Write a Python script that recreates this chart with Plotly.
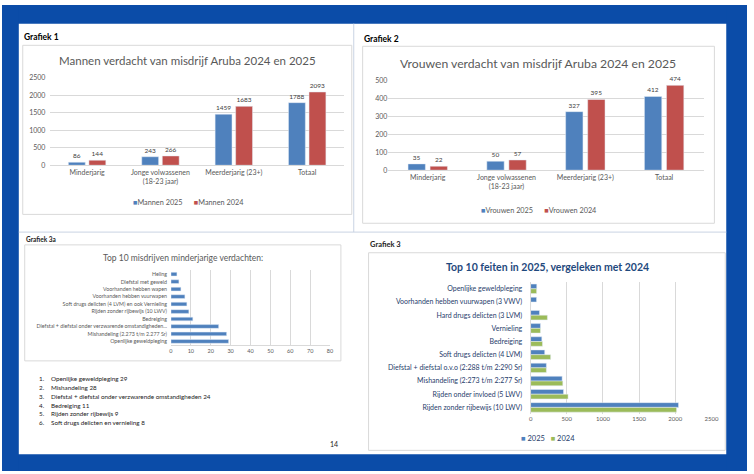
import plotly.graph_objects as go

W, H = 754, 474

# Grafiek 1 / 2 data
groepen = ['Minderjarig', 'Jonge volwassenen<br>(18-23 jaar)', 'Meerderjarig (23+)', 'Totaal']
mannen_2025 = [86, 243, 1459, 1788]
mannen_2024 = [144, 266, 1683, 2093]
vrouwen_2025 = [35, 50, 327, 412]
vrouwen_2024 = [22, 57, 395, 474]

# Grafiek 3a data (bottom to top)
minderjarig_feiten = [
    'Openlijke geweldpleging',
    'Mishandeling (2.273 t/m 2.277 Sr)',
    'Diefstal + diefstal onder verzwarende omstandigheden...',
    'Bedreiging',
    'Rijden zonder rijbewijs (10 LWV)',
    'Soft drugs delicten (4 LVM) en ook Vernieling',
    'Voorhanden hebben vuurwapen',
    'Voorhanden hebben wapen',
    'Diefstal met geweld',
    'Heling',
]
minderjarig_aantal = [29, 28, 24, 11, 9, 8, 7, 5, 4, 3]

lijst_teksten = [
    'Openlijke geweldpleging 29',
    'Mishandeling 28',
    'Diefstal + diefstal onder verzwarende omstandigheden 24',
    'Bedreiging 11',
    'Rijden zonder rijbewijs 9',
    'Soft drugs delicten en vernieling 8',
]

# Grafiek 3 data (bottom to top)
top10_feiten = [
    'Rijden zonder rijbewijs (10 LWV)',
    'Rijden onder invloed (5 LWV)',
    'Mishandeling (2:273 t/m 2:277 Sr)',
    'Diefstal + diefstal o.v.o (2:288 t/m 2:290 Sr)',
    'Soft drugs delicten (4 LVM)',
    'Bedreiging',
    'Vernieling',
    'Hard drugs delicten (3 LVM)',
    'Voorhanden hebben vuurwapen (3 VWV)',
    'Openlijke geweldpleging',
]
feiten_2025 = [2045, 455, 436, 218, 195, 155, 136, 123, 82, 85]
feiten_2024 = [2018, 518, 445, 218, 277, 164, 136, 232, 0, 83]

BLUE = '#4F81BD'
RED = '#C0504D'
GREEN = '#9BBB59'
PAGE_BLUE = '#0B4CA8'
GREY_TXT = '#595959'
GRID = '#D9D9D9'
NAVY = '#1F3D6B'
FONT = 'Lato, sans-serif'


def px(x):
    return x / W


def py(y):
    return 1 - y / H


fig = go.Figure()

label_font = dict(size=6.5, color='#404040')

# Grafiek 1
fig.add_trace(go.Bar(x=groepen, y=mannen_2025, name='Mannen 2025', marker_color=BLUE,
                     width=0.23, offset=-0.255, text=mannen_2025, textposition='outside',
                     textfont=label_font, cliponaxis=False, xaxis='x', yaxis='y'))
fig.add_trace(go.Bar(x=groepen, y=mannen_2024, name='Mannen 2024', marker_color=RED,
                     width=0.23, offset=0.025, text=mannen_2024, textposition='outside',
                     textfont=label_font, cliponaxis=False, xaxis='x', yaxis='y'))

# Grafiek 2
fig.add_trace(go.Bar(x=groepen, y=vrouwen_2025, name='Vrouwen 2025', marker_color=BLUE,
                     width=0.22, offset=-0.25, text=vrouwen_2025, textposition='outside',
                     textfont=label_font, cliponaxis=False, xaxis='x2', yaxis='y2'))
fig.add_trace(go.Bar(x=groepen, y=vrouwen_2024, name='Vrouwen 2024', marker_color=RED,
                     width=0.22, offset=0.03, text=vrouwen_2024, textposition='outside',
                     textfont=label_font, cliponaxis=False, xaxis='x2', yaxis='y2'))

# Grafiek 3a
fig.add_trace(go.Bar(y=minderjarig_feiten, x=minderjarig_aantal, orientation='h',
                     marker_color=BLUE, width=0.5, offset=-0.25,
                     xaxis='x3', yaxis='y3'))

# Grafiek 3
fig.add_trace(go.Bar(y=top10_feiten, x=feiten_2025, orientation='h', name='2025',
                     marker_color=BLUE, width=0.36, offset=0.0, xaxis='x4', yaxis='y4'))
fig.add_trace(go.Bar(y=top10_feiten, x=feiten_2024, orientation='h', name='2024',
                     marker_color=GREEN, width=0.36, offset=-0.36, xaxis='x4', yaxis='y4'))

tick_small = dict(size=7, color=GREY_TXT, family=FONT)

fig.update_layout(
    width=W, height=H,
    margin=dict(l=0, r=0, t=0, b=0),
    paper_bgcolor='white',
    plot_bgcolor='rgba(0,0,0,0)',
    font=dict(family=FONT, color=GREY_TXT),
    barmode='group',
    showlegend=False,
    xaxis=dict(domain=[px(49), px(346)], anchor='y', showgrid=False, showline=True,
               linecolor=GRID, tickfont=tick_small),
    yaxis=dict(domain=[py(163), py(74)], anchor='x', range=[0, 2500], dtick=500,
               gridcolor=GRID, zeroline=False, tickfont=tick_small, ticklabelstandoff=4),
    xaxis2=dict(domain=[px(391), px(710)], anchor='y2', showgrid=False, showline=True,
                linecolor=GRID, tickfont=tick_small),
    yaxis2=dict(domain=[py(168), py(77)], anchor='x2', range=[0, 500], dtick=100,
                gridcolor=GRID, zeroline=False, tickfont=tick_small),
    xaxis3=dict(domain=[px(171), px(332)], anchor='y3', range=[0, 80], dtick=10,
                gridcolor=GRID, zeroline=False, showline=True, linecolor=GRID,
                tickfont=dict(size=5.5, color=GREY_TXT, family=FONT)),
    yaxis3=dict(domain=[py(346), py(270)], anchor='x3', showgrid=False,
                tickfont=dict(size=5.3, color=GREY_TXT, family=FONT), ticklabelstandoff=3),
    xaxis4=dict(domain=[px(535), px(718)], anchor='y4', range=[0, 2500], dtick=500,
                gridcolor=GRID, zeroline=False, showline=False,
                tickfont=dict(size=6, color=GREY_TXT, family=FONT)),
    yaxis4=dict(domain=[py(416), py(282)], anchor='x4', showgrid=False, showline=True,
                linecolor=GRID, ticklabelstandoff=6,
                tickfont=dict(size=7, color=NAVY, family=FONT)),
)

# blue page border, panel lines and chart frames
shapes = []
for x0, y0, x1, y1 in [(0, 0, W, 19), (0, 457, W, H), (0, 0, 17, H), (733, 0, W, H)]:
    shapes.append(dict(type='rect', x0=px(x0), x1=px(x1), y0=py(y1), y1=py(y0),
                       fillcolor=PAGE_BLUE, line=dict(width=0), layer='above'))
shapes.append(dict(type='line', x0=px(356), x1=px(356), y0=py(231), y1=py(19),
                   line=dict(color='#C9D3E3', width=1)))
shapes.append(dict(type='line', x0=px(17), x1=px(733), y0=py(231), y1=py(231),
                   line=dict(color='#C9D3E3', width=1)))
for x0, y0, x1, y1 in [(21, 41, 354, 213), (365, 42, 721, 222),
                       (23, 244, 343, 362), (371, 252, 732, 453)]:
    shapes.append(dict(type='rect', x0=px(x0), x1=px(x1), y0=py(y1), y1=py(y0),
                       line=dict(color=GRID, width=1), fillcolor='rgba(0,0,0,0)'))
for s in shapes:
    s.update(xref='paper', yref='paper')
fig.update_layout(shapes=shapes)


def sq(color):
    return f"<span style='color:{color}'>■</span>"


annotations = [
    dict(x=px(20), y=py(33), text='<b>Grafiek 1</b>', xanchor='left',
         font=dict(size=8.5, color='#000000')),
    dict(x=px(364), y=py(35), text='<b>Grafiek 2</b>', xanchor='left',
         font=dict(size=8.5, color='#000000')),
    dict(x=px(22), y=py(239), text='<b>Grafiek 3a</b>', xanchor='left',
         font=dict(size=6.5, color='#222222')),
    dict(x=px(370), y=py(244), text='<b>Grafiek 3</b>', xanchor='left',
         font=dict(size=7.5, color='#222222')),
    dict(x=px(188), y=py(56), text='Mannen verdacht van misdrijf Aruba 2024 en 2025',
         font=dict(size=11.5, color=GREY_TXT)),
    dict(x=px(542), y=py(59), text='Vrouwen verdacht van misdrijf Aruba 2024 en 2025',
         font=dict(size=12.2, color=GREY_TXT)),
    dict(x=px(183), y=py(257), text='Top 10 misdrijven minderjarige verdachten:',
         font=dict(size=8.5, color=GREY_TXT)),
    dict(x=px(552), y=py(266), text='<b>Top 10 feiten in 2025, vergeleken met 2024</b>',
         font=dict(size=10.5, color='#1F497D')),
    dict(x=px(342), y=py(447), text='14', xanchor='right',
         font=dict(size=7, color='#222222')),
    # legends
    dict(x=px(189), y=py(201),
         text=f"{sq(BLUE)}Mannen 2025      {sq(RED)}Mannen 2024",
         font=dict(size=7.3, color=GREY_TXT)),
    dict(x=px(543), y=py(209),
         text=f"{sq(BLUE)}Vrouwen 2025      {sq(RED)}Vrouwen 2024",
         font=dict(size=7.3, color=GREY_TXT)),
    dict(x=px(553), y=py(441),
         text=f"{sq(BLUE)} 2025   {sq(GREEN)} 2024",
         font=dict(size=7.5, color=NAVY)),
]
for i, t in enumerate(lijst_teksten):
    yy = py(380 + 9 * i)
    annotations.append(dict(x=px(35), y=yy, text=f'{i + 1}.', xanchor='left',
                            font=dict(size=6.3, color='#222222')))
    annotations.append(dict(x=px(48), y=yy, text=t, xanchor='left',
                            font=dict(size=6.3, color='#222222')))
for a in annotations:
    a.setdefault('xanchor', 'center')
    a.update(xref='paper', yref='paper', showarrow=False, yanchor='middle')
fig.update_layout(annotations=annotations)

fig.write_html("out.html", config={'displayModeBar': False},
               post_script="document.body.style.margin='0';"
                           "document.body.style.overflow='hidden';")
